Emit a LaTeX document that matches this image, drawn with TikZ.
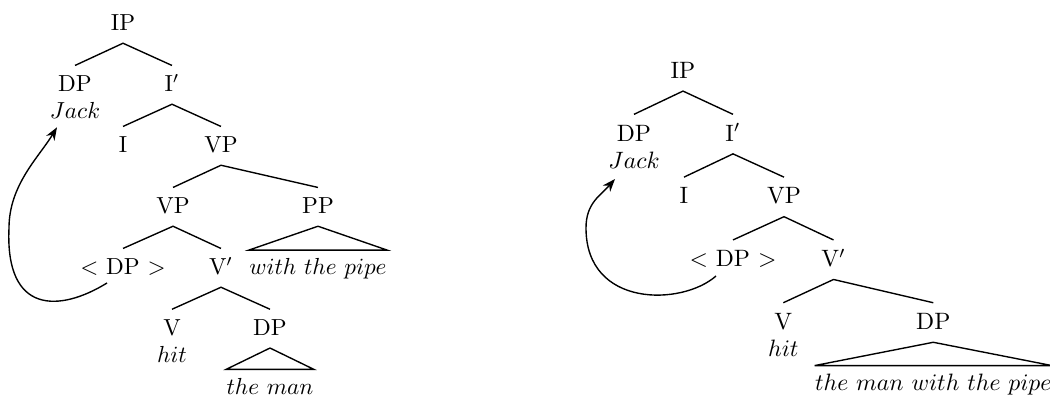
\documentclass[tikz,border=0pt]{standalone}
\usetikzlibrary{arrows.meta}
\begin{document}
\begin{tikzpicture}[x=0.435pt,y=-0.435pt,
  cat/.style={anchor=base,inner sep=0pt,text height=11.1pt,text depth=5.2pt},
  leaf/.style={anchor=base,inner sep=0pt},
  roof/.style={anchor=base,inner sep=0pt,text height=10.4pt},
  br/.style={line width=0.6pt},
  mv/.style={line width=0.6pt,-{Stealth[length=5.6pt,width=4.2pt,inset=1.8pt]}}]
\clip (0,0) rectangle (1050,398);
% ---------- left tree ----------
\begin{scope}[every node/.append style={scale=1.01}]
\node[cat] (aIP) at (123,30.7) {IP};
\node[cat] (aDP) at (75,91.7) {DP};
\node[cat] (aIb) at (172,91.7) {I$'$};
\node[leaf] (aJack) at (75,118.3) {$Jack$};
\node[cat] (aI) at (123,152.7) {I};
\node[cat] (aVP) at (221,152.7) {VP};
\node[cat] (aVPb) at (173,213.7) {VP};
\node[cat] (aPP) at (318,213.7) {PP};
\node[cat] (aT) at (123,274.7) {$<$ DP $>$};
\node[cat] (aVb) at (221,274.7) {V$'$};
\node[roof] (aPPt) at (318,274.7) {$with\ the\ pipe$};
\node[cat] (aV) at (172,335.5) {V};
\node[cat] (aDPb) at (270,335.5) {DP};
\node[leaf] (ahit) at (172,362) {$hit$};
\node[roof] (aman) at (270,394) {$the\ man$};
\end{scope}
\draw[br] (aDP.north) -- (aIP.south) -- (aIb.north);
\draw[br] (aI.north) -- (aIb.south) -- (aVP.north);
\draw[br] (aVPb.north) -- (aVP.south) -- (aPP.north);
\draw[br] (aT.north) -- (aVPb.south) -- (aVb.north);
\draw[br] (aV.north) -- (aVb.south) -- (aDPb.north);
\draw[br] (aPP.south) -- (aPPt.north west) -- (aPPt.north east) -- cycle;
\draw[br] (aDPb.south) -- (aman.north west) -- (aman.north east) -- cycle;
\coordinate (aL) at (9,228);
\draw[mv] ([shift={(-16,8.3)}]aT.base) .. controls +(-47,29) and +(-4,87) .. (aL)
  .. controls +(0,-43) and +(-18,29.7) .. ([shift={(-18,9)}]aJack.base);
% ---------- right tree ----------
\begin{scope}[every node/.append style={scale=1.03}]
\node[cat] (bIP) at (683,78.3) {IP};
\node[cat] (bDP) at (634,141.1) {DP};
\node[cat] (bIb) at (733,141.1) {I$'$};
\node[leaf] (bJack) at (634,168.3) {$Jack$};
\node[cat] (bI) at (684,203.9) {I};
\node[cat] (bVP) at (784,203.9) {VP};
\node[cat] (bT) at (733,266.7) {$<$ DP $>$};
\node[cat] (bVb) at (833.5,266.7) {V$'$};
\node[cat] (bV) at (783.3,329.5) {V};
\node[cat] (bDPb) at (933.3,329.5) {DP};
\node[leaf] (bhit) at (783.3,356.7) {$hit$};
\node[roof] (bman) at (933.3,390.7) {$the\ man\ with\ the\ pipe$};
\end{scope}
\draw[br] (bDP.north) -- (bIP.south) -- (bIb.north);
\draw[br] (bI.north) -- (bIb.south) -- (bVP.north);
\draw[br] (bT.north) -- (bVP.south) -- (bVb.north);
\draw[br] (bV.north) -- (bVb.south) -- (bDPb.north);
\draw[br] (bDPb.south) -- (bman.north west) -- (bman.north east) -- cycle;
\coordinate (bL) at (586,228);
\draw[mv] ([shift={(-17,9.3)}]bT.base) .. controls +(-34,30) and +(0,80) .. (bL)
  .. controls +(0,-25) and +(-14.5,16.5) .. ([shift={(-19,10.7)}]bJack.base);
\end{tikzpicture}
\end{document}
